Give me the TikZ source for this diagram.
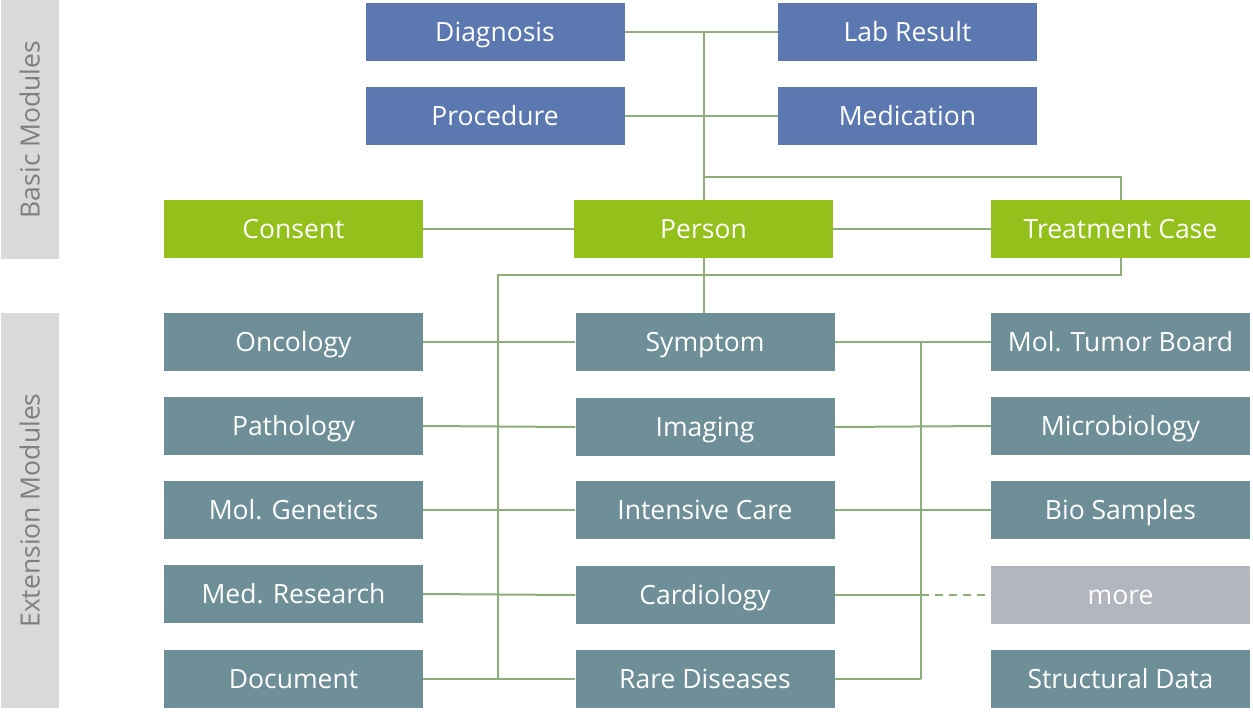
\documentclass[tikz,border=0pt]{standalone}
\usepackage{fontspec}
\setmainfont{Open Sans}
\definecolor{basicblue}{HTML}{5B78B0}
\definecolor{coregreen}{HTML}{93C01A}
\definecolor{extgray}{HTML}{6F8F98}
\definecolor{moregray}{HTML}{B3B6BE}
\definecolor{barfill}{HTML}{D9D9D9}
\definecolor{bartext}{HTML}{7F7F7F}
\definecolor{linkgreen}{HTML}{8DAE7A}
\begin{document}
\begin{tikzpicture}[x=1pt,y=-1pt,
        box/.style={minimum width=259pt,minimum height=58pt,inner sep=0pt,
            text=white,text height=25.6pt,text depth=6.6pt,
            font=\fontsize{26.5}{30}\selectfont},
        basic/.style={box,fill=basicblue},
        core/.style={box,fill=coregreen},
        ext/.style={box,fill=extgray},
        more/.style={box,fill=moregray},
        sidebar/.style={fill=barfill,text=bartext,rotate=90,inner sep=0pt,
            minimum height=58pt,text height=25.6pt,text depth=6.6pt,
            font=\fontsize{26.5}{30}\selectfont},
        link/.style={draw=linkgreen,line width=2pt},
        ]
    \useasboundingbox (0,0) rectangle (1253,718);
    % side labels
    \node (basiclbl) [sidebar,minimum width=259pt] at (30,129.5) {Basic Modules};
    \node (extlbl) [sidebar,minimum width=395pt] at (30,510.5) {Extension Modules};
    % basic modules
    \node (diag) [basic] at (495,31.5) {Diagnosis};
    \node (lab) [basic] at (907.5,31.5) {Lab Result};
    \node (proc) [basic] at (495,115.5) {Procedure};
    \node (med) [basic] at (907.5,115.5) {Medication};
    \node (consent) [core] at (293.5,229) {Consent};
    \node (person) [core] at (703.5,229) {Person};
    \node (treat) [core] at (1120.5,229) {Treatment Case};
    % extension modules
    \node (onc) [ext] at (293.5,342) {Oncology};
    \node (path) [ext] at (293.5,426) {Pathology};
    \node (gen) [ext] at (293.5,510) {Mol. Genetics};
    \node (res) [ext] at (293.5,594) {Med. Research};
    \node (doc) [ext] at (293.5,679) {Document};
    \node (sym) [ext] at (705,342) {Symptom};
    \node (img) [ext] at (705,427) {Imaging};
    \node (icu) [ext] at (705,510) {Intensive Care};
    \node (cardio) [ext] at (705,595) {Cardiology};
    \node (rare) [ext] at (705,679) {Rare Diseases};
    \node (tumor) [ext] at (1120.5,342) {Mol. Tumor Board};
    \node (micro) [ext] at (1120.5,426) {Microbiology};
    \node (bio) [ext] at (1120.5,510) {Bio Samples};
    \node (moremod) [more] at (1120.5,595) {more};
    \node (struct) [ext] at (1120.5,679) {Structural Data};
    % links
    \coordinate (hub) at (704,177);
    \coordinate (busL) at (498,275);
    \coordinate (busR) at (921,342);
    \draw[link] (diag.east) -- (lab.west);
    \draw[link] (proc.east) -- (med.west);
    \draw[link] (person.north) -- (person.north |- diag.east);
    \draw[link] (hub) -| (treat.north);
    \draw[link] (consent.east) -- (person.west);
    \draw[link] (person.east) -- (treat.west);
    \draw[link] (person.south) -- (person.south |- sym.north);
    \draw[link] (treat.south) |- (busL) -- (busL |- doc.east);
    \draw[link] (busR) -- (busR |- rare.east);
    \foreach \l/\m in {onc/sym,path/img,gen/icu,res/cardio,doc/rare}
        \draw[link] (\l.east) -- (\m.west);
    \foreach \m/\r in {sym/tumor,img/micro,icu/bio}
        \draw[link] (\m.east) -- (\r.west);
    \draw[link] (cardio.east) -- (cardio.east -| busR);
    \draw[link,dash pattern=on 8pt off 6pt] (cardio.east -| busR) -- ([xshift=-6pt]moremod.west);
    \draw[link] (rare.east) -- (rare.east -| busR);
\end{tikzpicture}
\end{document}
